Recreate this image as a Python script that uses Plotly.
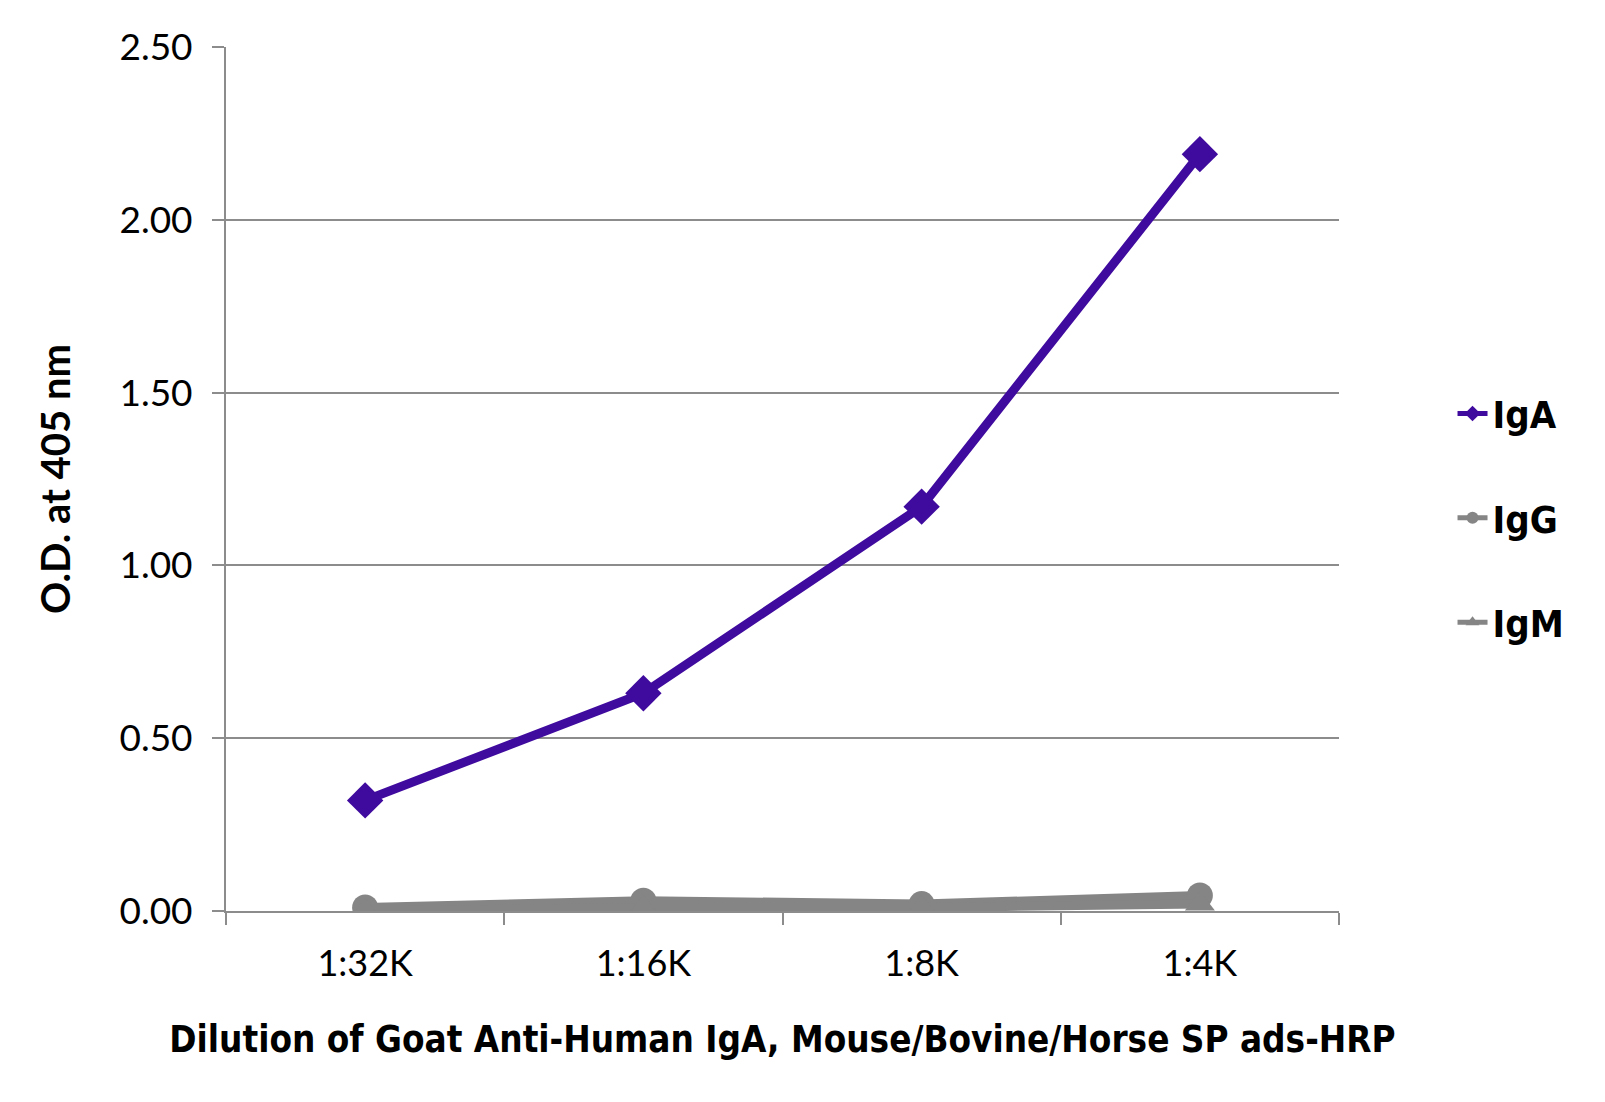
import plotly.graph_objects as go

dilutions = ["1:32K", "1:16K", "1:8K", "1:4K"]
iga = [0.32, 0.63, 1.17, 2.19]
igg = [0.01, 0.03, 0.02, 0.045]
igm = [0.00, 0.01, 0.01, 0.02]

purple = "#3f0a9e"
grey = "#858585"
axis_grey = "#8c8c8c"

narrow = "Liberation Sans Narrow, DejaVu Sans Condensed, sans-serif"

fig = go.Figure()

fig.add_trace(go.Scatter(
    x=dilutions, y=iga, name="IgA", mode="lines+markers", legendgroup="a",
    line=dict(color=purple, width=9),
    marker=dict(symbol="diamond", size=28, color=purple)
))
fig.add_trace(go.Scatter(
    x=dilutions, y=igg, name="IgG", mode="lines+markers", legendgroup="b",
    line=dict(color=grey, width=9),
    marker=dict(symbol="circle", size=26, color=grey)
))
fig.add_trace(go.Scatter(
    x=dilutions, y=igm, name="IgM", mode="lines+markers", legendgroup="c",
    line=dict(color=grey, width=9),
    marker=dict(symbol="triangle-up", size=26, color=grey)
))

fig.update_layout(
    width=1605, height=1102,
    paper_bgcolor="white", plot_bgcolor="white",
    margin=dict(l=218, r=274, t=39, b=199),
    font=dict(family="Lato, Open Sans, sans-serif", color="black"),
    showlegend=True,
    legend=dict(
        x=1.102, xanchor="left", y=0.612, yanchor="top",
        font=dict(family=narrow, size=38, color="black", weight="bold"),
        tracegroupgap=52, itemsizing="constant", traceorder="grouped",
        bgcolor="rgba(0,0,0,0)"
    ),
    xaxis=dict(
        type="category", range=[-0.5, 3.5],
        showline=True, linecolor=axis_grey, linewidth=2,
        ticks="outside", tickson="boundaries", ticklen=12, tickcolor=axis_grey, tickwidth=2,
        showgrid=False, tickfont=dict(size=36), ticklabelstandoff=20,
        title=dict(text="<b>Dilution of Goat Anti-Human IgA, Mouse/Bovine/Horse SP ads-HRP</b>",
                   font=dict(family=narrow, size=36.5),
                   standoff=43)
    ),
    yaxis=dict(
        range=[0, 2.5], dtick=0.5, tickformat=".2f",
        showline=True, linecolor=axis_grey, linewidth=2,
        ticks="outside", ticklen=12, tickcolor=axis_grey, tickwidth=2,
        showgrid=True, gridcolor=axis_grey, gridwidth=2, zeroline=False,
        tickfont=dict(size=37), ticklabelstandoff=12,
        title=dict(text="<b>O.D. at 405 nm</b>",
                   font=dict(family="Lato, sans-serif", size=40),
                   standoff=36)
    ),
)

fig.write_html("out.html")
